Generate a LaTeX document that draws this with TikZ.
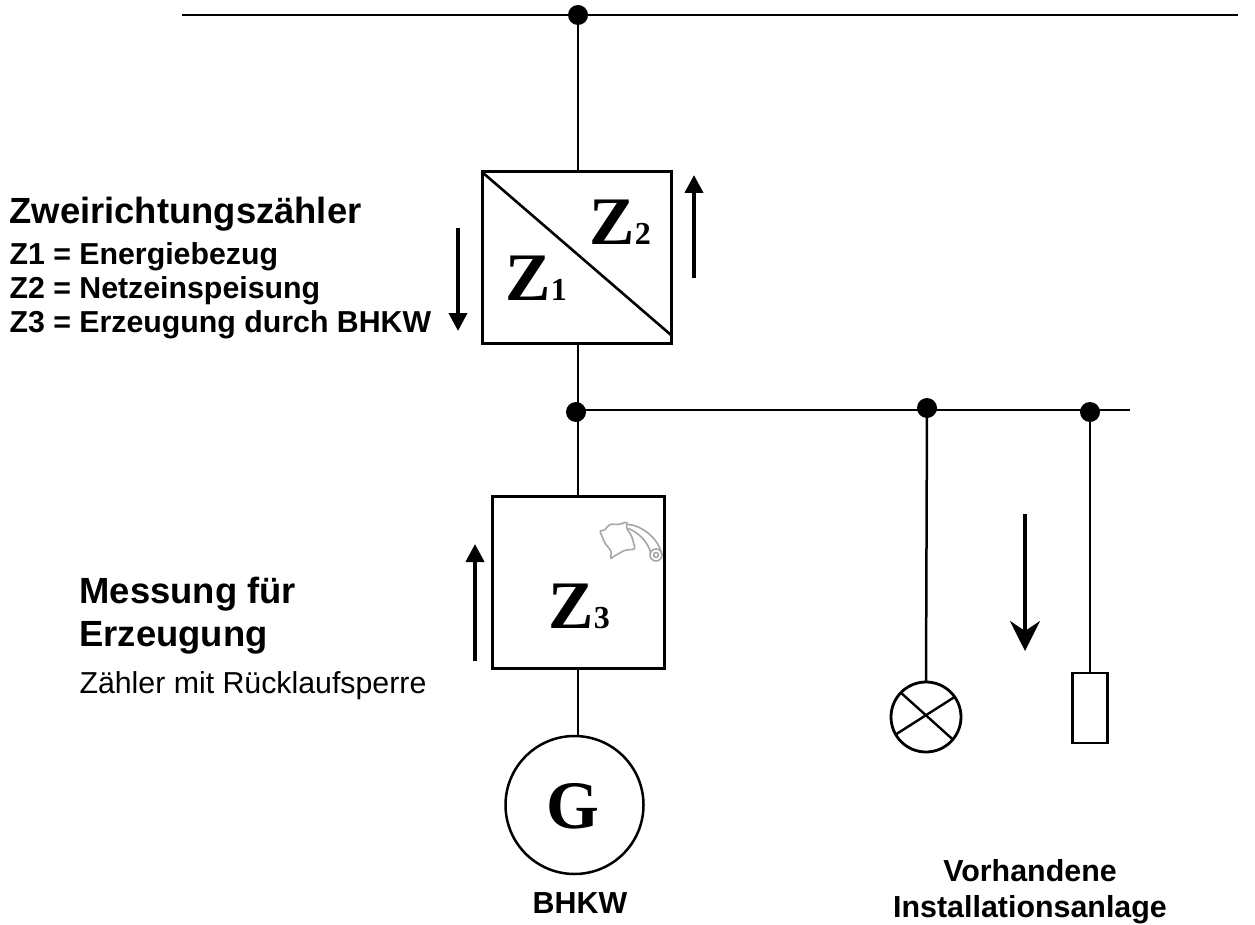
\documentclass[tikz,border=0pt]{standalone}
\usepackage{fontspec}
\setmainfont{Liberation Sans}
\newfontfamily\zfont{Liberation Serif}
\usetikzlibrary{arrows.meta}
\tikzset{
  wire/.style={line width=2.5pt},
  dotn/.style={circle,fill=black,inner sep=0pt,minimum size=20pt,outer sep=0pt},
  meter/.style={draw,line width=3pt,inner sep=0pt,outer sep=0pt,fill=white},
  flow/.style={line width=4pt,-{Triangle[width=18pt,length=18pt]}},
  flowbig/.style={line width=3.5pt,-{Stealth[width=30pt,length=30pt,inset=10pt]}},
  headtxt/.style={font=\fontsize{36.4}{43}\selectfont\bfseries,anchor=west},
  subtxt/.style={font=\fontsize{30.3}{36}\selectfont\bfseries,anchor=west},
  plaintxt/.style={font=\fontsize{30.3}{36}\selectfont,anchor=west},
  captxt/.style={font=\fontsize{30.4}{36}\selectfont\bfseries,align=center},
  zbig/.style={font=\zfont\fontsize{68}{68}\selectfont\bfseries,inner sep=0pt},
  zsub/.style={font=\zfont\fontsize{32}{32}\selectfont\bfseries,inner sep=0pt},
  swirl/.style={draw=black!35,line width=1.6pt,line join=round}
}
\begin{document}
\begin{tikzpicture}[x=1pt,y=-1pt]
\useasboundingbox (0,0) rectangle (1255,925);
% boxes
\node[meter,minimum width=189pt,minimum height=171pt] (box1) at (576.5,257.5) {};
\node[meter,minimum width=172pt,minimum height=172pt] (box3) at (578,582) {};
% junctions
\coordinate (topl) at (182,15);
\coordinate (topr) at (1238,15);
\node[dotn] (dtop) at (578,15) {};
\node[dotn] (dbus) at (576,412) {};
\node[dotn] (dlamp) at (927,408) {};
\node[dotn] (dload) at (1090,412) {};
\coordinate (busend) at (1130,410);
% consumers
\node[draw,circle,line width=2.8pt,minimum size=70pt,inner sep=0pt,outer sep=0pt] (lamp) at (926,717) {};
\node[draw,rectangle,line width=2.8pt,minimum width=35pt,minimum height=70pt,inner sep=0pt,outer sep=0pt] (load) at (1090,708) {};
\node[draw,circle,line width=2.5pt,minimum size=138pt,inner sep=0pt,outer sep=0pt] (gen) at (574.5,805) {};
% wires
\draw[wire] (topl) -- (topr);
\draw[wire] (dtop) -- (dtop |- box1.north);
\draw[wire] (box1.south -| dtop) -- (dtop |- dbus);
\draw[wire] (dbus |- busend) -- (busend);
\draw[wire] (dtop |- dbus) -- (dtop |- box3.north);
\draw[wire] (box3.south -| dtop) -- (dtop |- gen.north);
\draw[wire] (dlamp) -- (lamp.north);
\draw[wire] (dload) -- (load.north);
% inner marks
\draw[line width=2.6pt] (box1.north west) -- (box1.south east |- 0,335);
\draw[line width=2.4pt] (lamp.136) -- (lamp.-40);
\draw[line width=2.4pt] (lamp.210) -- (lamp.35);
% direction arrows
\coordinate (a1s) at (458,228); \coordinate (a1e) at (458,331);
\coordinate (a2s) at (694,278); \coordinate (a2e) at (694,175);
\coordinate (a3s) at (475,661); \coordinate (a3e) at (475,544);
\coordinate (a4s) at (1025,514); \coordinate (a4e) at (1025,651);
\draw[flow] (a1s) -- (a1e);
\draw[flow] (a2s) -- (a2e);
\draw[flow] (a3s) -- (a3e);
\draw[flowbig] (a4s) -- (a4e);
% meter labels
\node[zbig,anchor=base west] (z1) at (505,300) {Z};
\node[zsub,anchor=base west] (z1s) at (z1.base east) {1};
\node[zbig,anchor=base west] (z2) at (589,245) {Z};
\node[zsub,anchor=base west] (z2s) at (z2.base east) {2};
\node[zbig,anchor=base west] (z3) at (548,628) {Z};
\node[zsub,anchor=base west] (z3s) at (z3.base east) {3};
\node[zbig,anchor=base] (g) at (573,828) {G};
% swirl
\begin{scope}[shift={(590,510)},x=0.3333pt,y=-0.3333pt]
\draw[swirl,rounded corners=2.5pt] (28,60) -- (40,64) -- (60,42) -- (85,44) -- (113,35) -- (108,52)
  -- (125,78) -- (136,118) -- (105,120) -- (70,140) -- (60,148) -- (65,125) -- (45,100) -- cycle;
\draw[swirl] (112,43) .. controls (150,45) and (205,80) .. (216,135);
\draw[swirl] (115,55) .. controls (150,70) and (175,100) .. (182,128);
\draw[swirl] (198,135) circle (6pt);
\draw[swirl] (198,135) circle (2.5pt);
\end{scope}
% texts
\node[headtxt] (t1) at (6,214) {Zweirichtungszähler};
\node[subtxt] (t2) at (6,257) {Z1 = Energiebezug};
\node[subtxt] (t3) at (6,291) {Z2 = Netzeinspeisung};
\node[subtxt] (t4) at (6,325) {Z3 = Erzeugung durch BHKW};
\node[headtxt,align=left] (t5) at (76,616) {Messung für\\Erzeugung};
\node[plaintxt] (t6) at (76,686) {Zähler mit Rücklaufsperre};
\node[captxt] (t7) at (580,903) {BHKW};
\node[captxt] (t8) at (1030,892) {Vorhandene\\Installationsanlage};
\end{tikzpicture}
\end{document}
